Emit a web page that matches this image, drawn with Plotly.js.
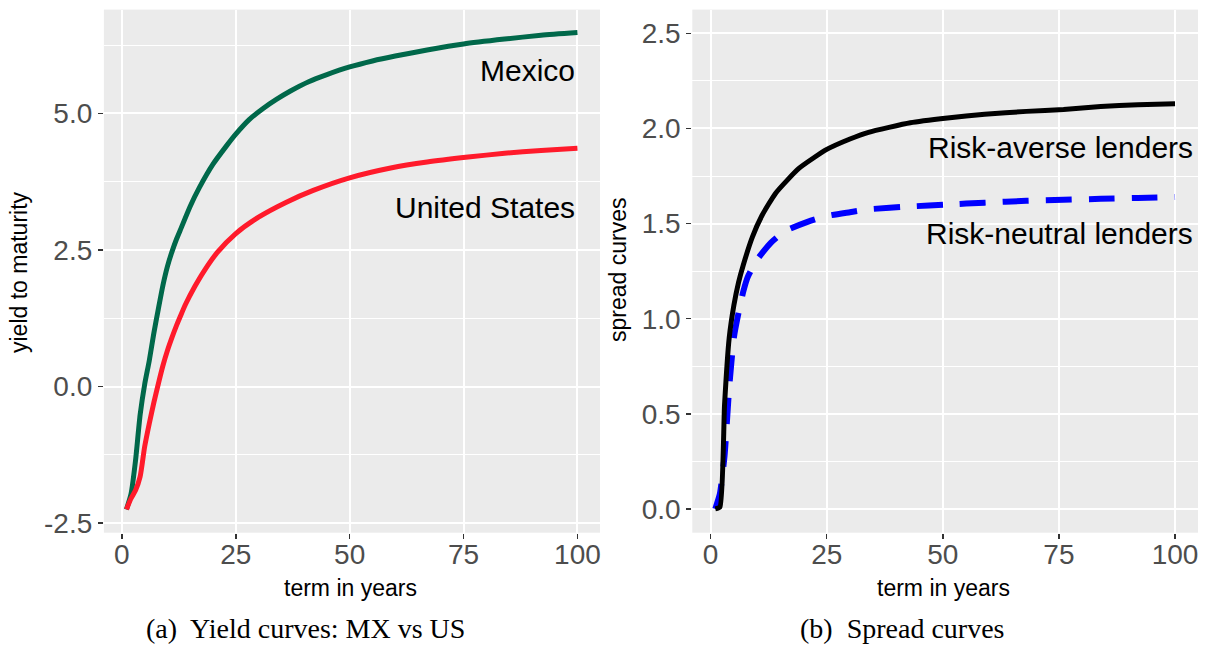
<!DOCTYPE html>
<html>
<head>
<meta charset="utf-8">
<script src="https://cdn.plot.ly/plotly-3.0.1.min.js"></script>
<style>
  html, body { margin: 0; padding: 0; background: #ffffff; }
  #chart { width: 1205px; height: 646px; }
</style>
</head>
<body>
<div id="chart"></div>
<script>
// ---- Panel (a): yield curves ----
const mxTerm  = [1, 2, 3, 4, 5, 6, 7, 8, 9, 10, 11, 12, 13, 15, 17, 20, 23, 25, 28, 31, 34, 37, 41, 45, 50, 55, 60, 67, 75, 84, 92, 100];
const mxYield = [-2.25, -1.97, -1.35, -0.52, 0.04, 0.47, 0.97, 1.42, 1.85, 2.2, 2.47, 2.7, 2.9, 3.3, 3.64, 4.07, 4.41, 4.62, 4.89, 5.09, 5.26, 5.41, 5.58, 5.71, 5.85, 5.96, 6.05, 6.16, 6.27, 6.36, 6.43, 6.48];
const usTerm  = [1, 2, 3, 4, 5, 6, 7, 8, 9, 10, 11, 12, 13, 14, 16, 18, 21, 25, 30, 36, 42, 50, 59, 67, 76, 84, 92, 100];
const usYield = [-2.25, -2.05, -1.9, -1.65, -1.1, -0.68, -0.3, 0.05, 0.38, 0.66, 0.9, 1.12, 1.32, 1.51, 1.83, 2.11, 2.46, 2.8, 3.1, 3.37, 3.59, 3.82, 4.0, 4.11, 4.2, 4.27, 4.32, 4.36];

// ---- Panel (b): spread curves ----
const raTerm   = [1, 2, 3, 4, 5, 6, 7, 9, 11, 14, 19, 25, 30, 34, 43, 51, 59, 68, 76, 84, 92, 100];
const raSpread = [0, 0.01, 0.55, 0.9, 1.07, 1.19, 1.28, 1.43, 1.54, 1.66, 1.79, 1.89, 1.945, 1.98, 2.03, 2.055, 2.075, 2.09, 2.1, 2.115, 2.125, 2.13];
const rnTerm   = [1, 2, 3, 4, 5, 6, 7, 8, 10, 13, 16, 21, 25, 30, 34, 43, 51, 59, 68, 76, 84, 92, 100];
const rnSpread = [0, 0.08, 0.28, 0.64, 0.9, 1.03, 1.14, 1.22, 1.31, 1.40, 1.46, 1.51, 1.54, 1.56, 1.575, 1.59, 1.6, 1.61, 1.62, 1.625, 1.63, 1.635, 1.64];

const xTicks = [0, 25, 50, 75, 100];
const xTickText = ["0", "25", "50", "75", "100"];
const yTicksA = [-2.5, 0, 2.5, 5];
const yTickTextA = ["-2.5", "0.0", "2.5", "5.0"];
const yTicksB = [0, 0.5, 1, 1.5, 2, 2.5];
const yTickTextB = ["0.0", "0.5", "1.0", "1.5", "2.0", "2.5"];

const labelsA = ["Mexico", "United States"];
const labelsB = ["Risk-averse lenders", "Risk-neutral lenders"];
const axisTitles = ["yield to maturity", "spread curves", "term in years"];
const captions = ["(a)  Yield curves: MX vs US", "(b)  Spread curves"];

const W = 1205, H = 646;
const px = v => v / W;
const py = v => 1 - v / H;

const SANS = "Liberation Sans, Arial, Helvetica, sans-serif";
const SERIF = "Liberation Serif, Times New Roman, serif";

const traces = [
  { x: mxTerm, y: mxYield, xaxis: "x", yaxis: "y", mode: "lines",
    line: { color: "#00684A", width: 5, shape: "spline", smoothing: 0.6 }, name: "Mexico" },
  { x: usTerm, y: usYield, xaxis: "x", yaxis: "y", mode: "lines",
    line: { color: "#FF1A2B", width: 5, shape: "spline", smoothing: 0.6 }, name: "United States" },
  { x: rnTerm, y: rnSpread, xaxis: "x2", yaxis: "y2", mode: "lines",
    line: { color: "#0000FF", width: 6, dash: "26px,17px", shape: "spline", smoothing: 0.5 }, name: "Risk-neutral" },
  { x: raTerm, y: raSpread, xaxis: "x2", yaxis: "y2", mode: "lines",
    line: { color: "#000000", width: 5, shape: "spline", smoothing: 0.5 }, name: "Risk-averse" }
];

function xAxis(domain, anchor) {
  return {
    domain: domain, anchor: anchor, range: [-3.95, 104.95],
    tickmode: "array", tickvals: xTicks, ticktext: xTickText,
    showgrid: true, gridcolor: "#FFFFFF", gridwidth: 2,
    zeroline: false, showline: false,
    ticks: "outside", ticklen: 5, tickwidth: 1.5, tickcolor: "#333333",
    ticklabelstandoff: -8,
    tickfont: { family: SANS, size: 28, color: "#4D4D4D" }
  };
}
function yAxis(domain, anchor, range, vals, text, minorDtick) {
  return {
    domain: domain, anchor: anchor, range: range,
    tickmode: "array", tickvals: vals, ticktext: text,
    showgrid: true, gridcolor: "#FFFFFF", gridwidth: 2,
    minor: { tickmode: "linear", tick0: 0, dtick: minorDtick, showgrid: true, gridcolor: "#FFFFFF", gridwidth: 1, ticks: "" },
    zeroline: false, showline: false,
    ticks: "outside", ticklen: 5, tickwidth: 1.5, tickcolor: "#333333",
    tickfont: { family: SANS, size: 28, color: "#4D4D4D" }
  };
}

const yDom = [py(532.7), py(9.6)];

const annotations = [
  { xref: "x", yref: "y", x: 100, y: 5.78, text: labelsA[0], showarrow: false, xanchor: "right", yanchor: "middle",
    font: { family: SANS, size: 30, color: "#000000" } },
  { xref: "x", yref: "y", x: 100, y: 3.28, text: labelsA[1], showarrow: false, xanchor: "right", yanchor: "middle",
    font: { family: SANS, size: 30, color: "#000000" } },
  { xref: "x2", yref: "y2", x: 104.4, y: 1.90, text: labelsB[0], showarrow: false, xanchor: "right", yanchor: "middle",
    font: { family: SANS, size: 30, color: "#000000" } },
  { xref: "x2", yref: "y2", x: 104.4, y: 1.447, text: labelsB[1], showarrow: false, xanchor: "right", yanchor: "middle",
    font: { family: SANS, size: 30, color: "#000000" } },
  { xref: "paper", yref: "paper", x: px(19), y: py(272), text: axisTitles[0], showarrow: false, textangle: -90,
    xanchor: "center", yanchor: "middle", font: { family: SANS, size: 23, color: "#000000" } },
  { xref: "paper", yref: "paper", x: px(618), y: py(270), text: axisTitles[1], showarrow: false, textangle: -90,
    xanchor: "center", yanchor: "middle", font: { family: SANS, size: 23, color: "#000000" } },
  { xref: "paper", yref: "paper", x: px(350), y: py(588), text: axisTitles[2], showarrow: false,
    xanchor: "center", yanchor: "middle", font: { family: SANS, size: 23, color: "#000000" } },
  { xref: "paper", yref: "paper", x: px(943), y: py(588), text: axisTitles[2], showarrow: false,
    xanchor: "center", yanchor: "middle", font: { family: SANS, size: 23, color: "#000000" } },
  { xref: "paper", yref: "paper", x: px(305), y: py(628), text: captions[0], showarrow: false,
    xanchor: "center", yanchor: "middle", font: { family: SERIF, size: 28, color: "#000000" } },
  { xref: "paper", yref: "paper", x: px(902), y: py(628), text: captions[1], showarrow: false,
    xanchor: "center", yanchor: "middle", font: { family: SERIF, size: 28, color: "#000000" } }
];

const layout = {
  width: W, height: H,
  margin: { l: 0, r: 0, t: 0, b: 0, pad: 0 },
  paper_bgcolor: "#FFFFFF",
  plot_bgcolor: "#EBEBEB",
  showlegend: false,
  xaxis: xAxis([px(103.9), px(600)], "y"),
  yaxis: yAxis(yDom, "x", [-2.676, 6.90], yTicksA, yTickTextA, 1.25),
  xaxis2: xAxis([px(692.3), px(1198)], "y2"),
  yaxis2: yAxis(yDom, "x2", [-0.125, 2.625], yTicksB, yTickTextB, 0.25),
  annotations: annotations
};

Plotly.newPlot("chart", traces, layout, { staticPlot: true, displayModeBar: false });
</script>
</body>
</html>
